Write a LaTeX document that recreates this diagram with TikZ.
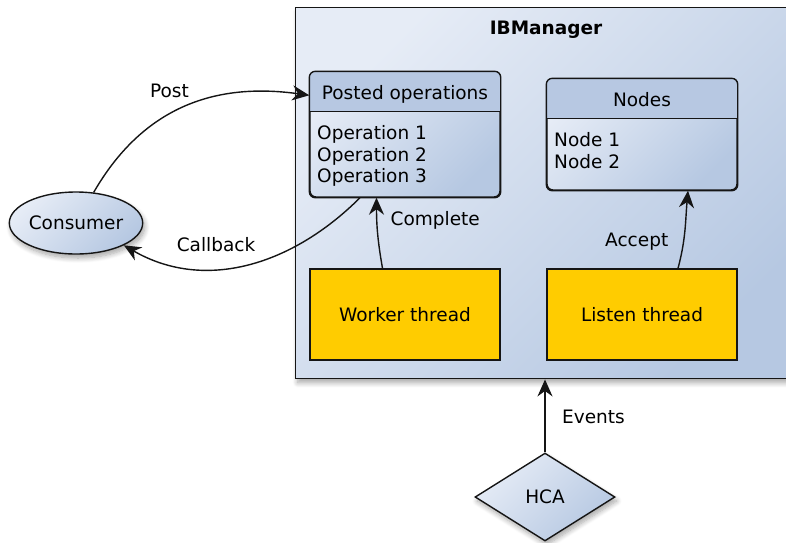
\documentclass[tikz,border=0pt]{standalone}
\usepackage{fontspec}
\setmainfont{DejaVu Sans}
\usetikzlibrary{shapes.geometric,shadows.blur,arrows.meta,calc}

\definecolor{paneLight}{HTML}{E6ECF6}
\definecolor{paneDark}{HTML}{B6C8E2}
\definecolor{headFill}{HTML}{B7C8E2}
\definecolor{threadFill}{HTML}{FFCC00}
\definecolor{edgeInk}{HTML}{151515}

\tikzset{
  base font/.style={font=\fontsize{18.5}{21.7}\selectfont},
  pane/.style={draw=edgeInk, line width=1.4pt,
    top color=paneLight, bottom color=paneDark, shading angle=45},
  soft shadow/.style={blur shadow={shadow blur steps=8, shadow xshift=2pt,
    shadow yshift=-4pt, shadow blur radius=5pt, shadow opacity=35}},
  listbox/.style={pane, rounded corners=6pt, minimum width=190pt, inner sep=0pt},
  threadbox/.style={draw=edgeInk, line width=1.4pt, fill=threadFill,
    minimum width=190pt, minimum height=91pt, inner sep=0pt, base font},
  flow/.style={draw=edgeInk, line width=1.4pt,
    -{Stealth[length=17pt, width=15pt, inset=5.5pt]}},
  lbl/.style={base font, inner sep=0pt},
}

\begin{document}
\begin{tikzpicture}[x=1pt, y=-1pt]
  \useasboundingbox (0,0) rectangle (786,542);

  % manager frame
  \node[pane, soft shadow, minimum width=502pt, minimum height=371pt,
        inner sep=0pt, anchor=north west] (mgr) at (295,7) {};
  \node[lbl, anchor=base, font=\fontsize{18.5}{21.7}\selectfont\bfseries]
        (mgrT) at (546,34) {IBManager};

  % posted operations list
  \node[listbox, minimum height=125pt] (posted) at (405,134.5) {};
  \begin{scope}
    \clip[rounded corners=6pt] (posted.south west) rectangle (posted.north east);
    \fill[headFill] (posted.north west) rectangle ([yshift=-40pt]posted.north east);
  \end{scope}
  \draw[edgeInk, line width=1.4pt] ([yshift=-40pt]posted.north west) -- ([yshift=-40pt]posted.north east);
  \draw[edgeInk, line width=1.4pt, rounded corners=6pt] (posted.south west) rectangle (posted.north east);
  \node[lbl, anchor=base] (postedT) at (405,99) {Posted operations};
  % the base anchor of a multi-line node sits on its last line
  \node[lbl, anchor=base west, align=left] (postedL) at (317,182.9)
        {Operation 1\\Operation 2\\Operation 3};

  % nodes list
  \node[listbox, minimum height=111pt] (nodes) at (642,134.5) {};
  \begin{scope}
    \clip[rounded corners=6pt] (nodes.south west) rectangle (nodes.north east);
    \fill[headFill] (nodes.north west) rectangle ([yshift=-40pt]nodes.north east);
  \end{scope}
  \draw[edgeInk, line width=1.4pt] ([yshift=-40pt]nodes.north west) -- ([yshift=-40pt]nodes.north east);
  \draw[edgeInk, line width=1.4pt, rounded corners=6pt] (nodes.south west) rectangle (nodes.north east);
  \node[lbl, anchor=base] (nodesT) at (642,106) {Nodes};
  \node[lbl, anchor=base west, align=left] (nodesL) at (554,168.2)
        {Node 1\\Node 2};

  % threads
  \node[threadbox] (worker) at (405,314.5) {Worker thread};
  \node[threadbox] (listen) at (642,314.5) {Listen thread};

  % outside parties
  \node[pane, soft shadow, ellipse, minimum width=124pt, minimum height=62pt,
        inner sep=0pt, base font] (cons) at (76,223) {Consumer};
  \node[pane, soft shadow, diamond, minimum width=140pt, minimum height=88pt,
        aspect=1.6, inner sep=0pt, base font] (hca) at (545,497) {HCA};

  % connectors
  \coordinate (postIn) at ($(posted.north west)+(0,24)$);
  \draw[flow] (cons.60) to[out=60, in=172, looseness=1.05] (postIn);
  \coordinate (cbOut) at ($(posted.south)+(-45,0)$);
  \draw[flow] (cbOut) to[out=-135, in=-30] (cons.-25);
  \coordinate (cmpOut) at ($(worker.north)+(-22.5,0)$);
  \coordinate (cmpIn) at ($(posted.south)+(-28.5,0)$);
  \draw[flow] (cmpOut) to[out=100, in=-90] (cmpIn);
  \coordinate (accOut) at ($(listen.north)+(36,0)$);
  \coordinate (accIn) at ($(nodes.south)+(46,0)$);
  \draw[flow] (accOut) to[out=75, in=-95] (accIn);
  \draw[flow] (hca.north) -- (hca.north |- mgr.south);

  % connector labels
  \node[lbl, anchor=base] (postL) at (169.5,97.3) {Post};
  \node[lbl, anchor=base] (cbL) at (216,251.7) {Callback};
  \node[lbl, anchor=base west] (cmpL) at (390.5,225.7) {Complete};
  \node[lbl, anchor=base west] (accL) at (605,246.7) {Accept};
  \node[lbl, anchor=base west] (evL) at (562,423) {Events};
\end{tikzpicture}
\end{document}
